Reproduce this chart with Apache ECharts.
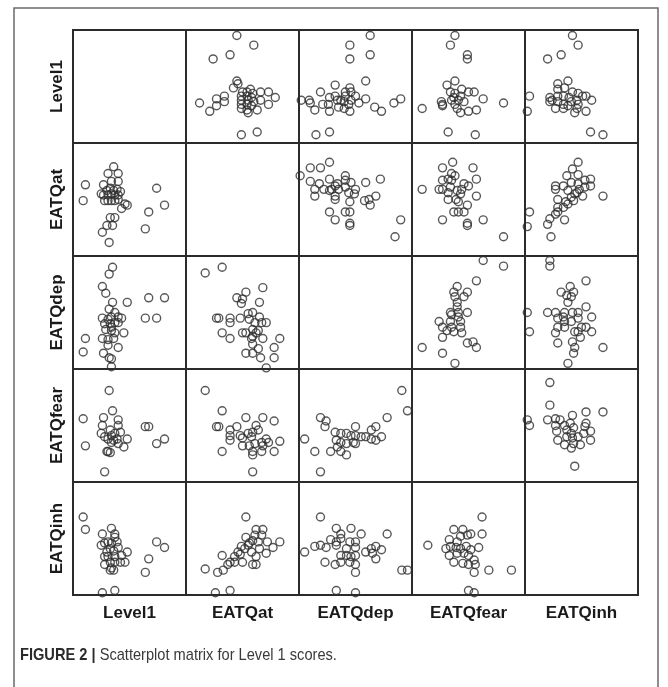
<!DOCTYPE html>
<html>
<head>
<meta charset="utf-8">
<script src="https://cdn.jsdelivr.net/npm/echarts@6/dist/echarts.min.js"></script>
<style>
  body { margin: 0; background: #fff; }
  #chart { width: 668px; height: 687px; }
</style>
</head>
<body>
<div id="chart"></div>
<script>
// variable names, in matrix order
const varNames = ['Level1', 'EATQat', 'EATQdep', 'EATQfear', 'EATQinh']

// lower-triangle panels, [x, y] (0-100 of each panel)
// the upper triangle is the same pairs with x and y swapped
const level1_at = [[36, 79], [31, 73], [40, 73], [11, 63], [27, 63], [34, 66], [40, 66], [9, 49], [74, 60], [81, 45], [67, 39], [48, 45], [43, 42], [46, 46], [64, 24], [33, 34], [37, 34], [30, 27], [35, 27], [26, 21], [32, 12], [27, 54], [30, 58], [33, 60], [36, 58], [39, 59], [42, 57], [28, 49], [31, 49], [34, 49], [37, 49], [40, 50], [31, 54], [34, 55], [37, 54], [40, 54], [25, 55]]
const level1_dep = [[35, 90], [32, 84], [26, 73], [29, 67], [35, 59], [48, 59], [67, 63], [81, 63], [64, 45], [74, 45], [32, 53], [37, 50], [26, 45], [31, 44], [34, 46], [40, 46], [43, 45], [33, 40], [37, 41], [40, 41], [29, 35], [34, 34], [37, 32], [45, 32], [11, 27], [26, 27], [31, 26], [36, 27], [31, 21], [40, 19], [9, 15], [27, 14], [32, 10], [34, 9], [34, 2], [28, 40], [34, 37]]
const at_dep = [[17, 85], [32, 90], [68, 72], [53, 68], [45, 63], [50, 62], [49, 58], [65, 59], [59, 50], [55, 49], [65, 46], [71, 41], [61, 41], [67, 41], [27, 45], [29, 45], [39, 45], [48, 45], [56, 44], [39, 41], [50, 32], [53, 32], [59, 35], [64, 34], [59, 29], [62, 32], [58, 27], [68, 27], [83, 27], [32, 32], [39, 27], [59, 22], [64, 18], [78, 19], [53, 14], [59, 14], [66, 10], [78, 10], [71, 1]]
const level1_fear = [[32, 81], [35, 63], [9, 56], [27, 57], [40, 55], [26, 50], [40, 50], [64, 49], [67, 49], [25, 43], [33, 46], [34, 41], [37, 43], [42, 44], [48, 38], [31, 38], [36, 37], [39, 38], [11, 32], [45, 31], [30, 27], [33, 26], [31, 27], [74, 34], [81, 38], [28, 9], [28, 40], [34, 35], [40, 34]]
const at_fear = [[17, 81], [32, 63], [53, 57], [68, 57], [78, 54], [27, 49], [29, 49], [45, 49], [39, 46], [39, 41], [39, 37], [48, 41], [50, 39], [55, 43], [59, 44], [62, 50], [64, 46], [58, 40], [61, 34], [67, 35], [71, 38], [73, 35], [83, 36], [50, 32], [56, 32], [68, 32], [32, 27], [59, 27], [59, 24], [67, 27], [78, 27], [59, 9]]
const dep_fear = [[91, 81], [96, 63], [19, 57], [24, 54], [23, 49], [78, 57], [68, 49], [64, 46], [50, 49], [5, 38], [32, 44], [37, 43], [42, 43], [46, 41], [50, 41], [55, 40], [59, 40], [64, 38], [68, 37], [73, 40], [33, 37], [37, 35], [48, 35], [50, 34], [42, 34], [14, 27], [28, 27], [37, 27], [42, 24], [34, 31], [19, 9]]
const level1_inh = [[9, 69], [11, 58], [26, 54], [34, 59], [37, 54], [37, 51], [25, 44], [28, 46], [31, 47], [34, 46], [39, 47], [40, 42], [33, 41], [30, 38], [36, 39], [48, 38], [43, 35], [37, 34], [74, 47], [81, 42], [28, 27], [33, 29], [37, 29], [42, 29], [46, 29], [34, 24], [33, 22], [36, 22], [67, 32], [64, 20], [26, 2], [37, 4], [28, 34], [31, 34]]
const at_inh = [[53, 69], [62, 58], [68, 58], [53, 51], [61, 53], [67, 53], [59, 48], [64, 47], [72, 47], [83, 47], [55, 44], [49, 43], [52, 41], [65, 41], [77, 42], [71, 37], [58, 38], [48, 36], [43, 34], [62, 34], [32, 35], [39, 29], [37, 27], [43, 29], [50, 29], [59, 27], [62, 27], [17, 23], [28, 20], [33, 22], [26, 2], [39, 4], [56, 46], [46, 38]]
const dep_inh = [[19, 69], [33, 59], [46, 59], [37, 54], [55, 54], [78, 54], [28, 49], [33, 47], [37, 50], [45, 47], [50, 47], [19, 44], [14, 43], [24, 42], [33, 44], [5, 38], [42, 41], [50, 42], [59, 38], [64, 41], [68, 43], [73, 40], [65, 37], [37, 35], [42, 35], [50, 35], [46, 34], [68, 32], [23, 29], [32, 27], [37, 29], [45, 29], [50, 27], [50, 20], [91, 22], [96, 22], [33, 4], [50, 2]]
const fear_inh = [[62, 69], [37, 58], [45, 58], [52, 54], [62, 54], [14, 44], [33, 49], [40, 47], [43, 52], [49, 53], [59, 42], [30, 41], [34, 43], [39, 42], [43, 41], [48, 43], [52, 40], [33, 35], [40, 37], [46, 37], [50, 35], [37, 29], [45, 28], [50, 27], [55, 31], [56, 27], [55, 20], [68, 22], [88, 22], [50, 4], [55, 2]]

// [row, col, points] for the lower triangle
const lowerPanels = [
  [1, 0, level1_at],
  [2, 0, level1_dep], [2, 1, at_dep],
  [3, 0, level1_fear], [3, 1, at_fear], [3, 2, dep_fear],
  [4, 0, level1_inh], [4, 1, at_inh], [4, 2, dep_inh], [4, 3, fear_inh]
]

// Level1 runs taller in the top row than in the first column
const topRowRange = [3, 85]

const n = varNames.length
const cellLeft = 73
const cellTop = 30
const cell = 113
const labelFont = {
  fontFamily: 'Liberation Sans',
  fontWeight: 'bold',
  fontSize: 17,
  color: '#1a1a1a'
}

const grid = []
const xAxis = []
const yAxis = []
const series = []

for (let r = 0; r < n; r++) {
  for (let c = 0; c < n; c++) {
    const idx = r * n + c
    grid.push({
      left: cellLeft + c * cell,
      top: cellTop + r * cell,
      width: cell,
      height: cell,
      show: true,
      borderColor: '#2b2b2b',
      borderWidth: 2,
      backgroundColor: 'transparent'
    })
    const bottomRow = r === n - 1
    const firstCol = c === 0
    xAxis.push({
      gridIndex: idx,
      type: 'value',
      min: 0,
      max: 100,
      show: bottomRow,
      name: bottomRow ? varNames[c] : '',
      nameLocation: 'middle',
      nameGap: 10,
      nameTextStyle: labelFont,
      axisLine: { show: false },
      axisTick: { show: false },
      axisLabel: { show: false },
      splitLine: { show: false }
    })
    yAxis.push({
      gridIndex: idx,
      type: 'value',
      min: r === 0 ? topRowRange[0] : 0,
      max: r === 0 ? topRowRange[1] : 100,
      show: firstCol,
      name: firstCol ? varNames[r] : '',
      nameLocation: 'middle',
      nameRotate: 90,
      nameGap: 7,
      nameTextStyle: labelFont,
      axisLine: { show: false },
      axisTick: { show: false },
      axisLabel: { show: false },
      splitLine: { show: false }
    })
  }
}

function addPanel(r, c, data) {
  const idx = r * n + c
  series.push({
    type: 'scatter',
    xAxisIndex: idx,
    yAxisIndex: idx,
    data: data,
    symbol: 'circle',
    symbolSize: 8,
    silent: true,
    itemStyle: {
      color: 'rgba(0,0,0,0)',
      borderColor: '#2e2e2e',
      borderWidth: 1.4
    }
  })
}

lowerPanels.forEach(function(p) {
  addPanel(p[0], p[1], p[2])
  // mirror panel: same pairs, axes swapped
  addPanel(p[1], p[0], p[2].map(function(d) { return [d[1], d[0]] }))
})

const chart = echarts.init(document.getElementById('chart'))
chart.setOption({
  animation: false,
  grid: grid,
  xAxis: xAxis,
  yAxis: yAxis,
  series: series,
  graphic: [
    {
      type: 'rect',
      shape: { x: 14, y: 8, width: 644, height: 720 },
      style: { fill: 'none', stroke: '#6a6a6a', lineWidth: 1.5 },
      silent: true
    },
    {
      type: 'text',
      x: 20,
      y: 647,
      scaleX: 0.86,
      style: {
        text: '{b|FIGURE 2 |} Scatterplot matrix for Level 1 scores.',
        fontFamily: 'Liberation Sans',
        fontSize: 17,
        fill: '#3a3a3a',
        rich: {
          b: { fontFamily: 'Liberation Sans', fontWeight: 'bold', fontSize: 17, fill: '#2a2a2a' }
        }
      },
      silent: true
    }
  ]
})
window.addEventListener('resize', function() {
  chart.resize()
})
</script>
</body>
</html>
